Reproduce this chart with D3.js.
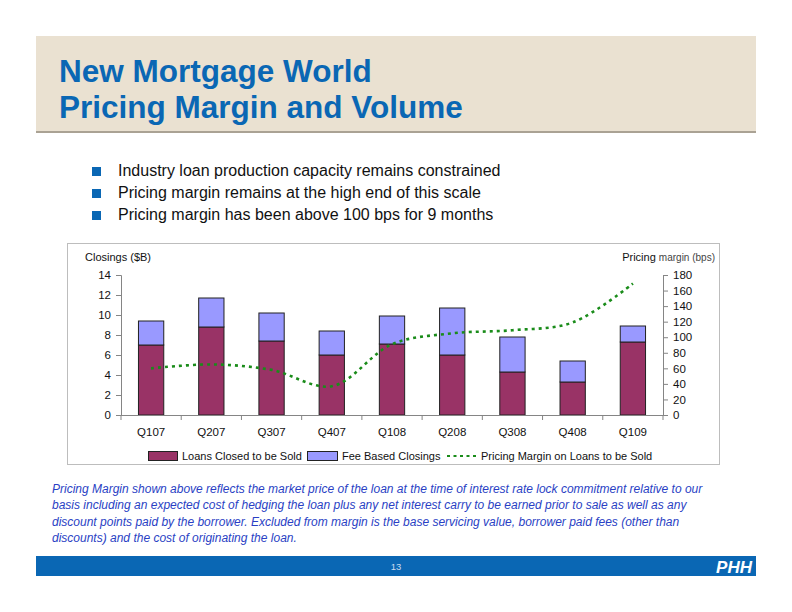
<!DOCTYPE html>
<html><head><meta charset="utf-8">
<script src="https://cdn.jsdelivr.net/npm/d3@7"></script>
<style>
html,body{margin:0;padding:0;background:#fff;}
svg{display:block;font-family:"Liberation Sans",Arial,sans-serif;}
</style></head>
<body><svg id="c" width="792" height="612"></svg>
<script>
const categories = ["Q107","Q207","Q307","Q407","Q108","Q208","Q308","Q408","Q109"];
const loansClosedToBeSold = [7.0, 8.8, 7.4, 6.0, 7.1, 6.0, 4.3, 3.3, 7.3];
const feeBasedClosings    = [2.4, 2.9, 2.8, 2.4, 2.8, 4.7, 3.5, 2.1, 1.6];
const pricingMargin       = [60, 65, 58, 37, 91, 105, 109, 119, 169];
const leftTicks  = [0,2,4,6,8,10,12,14];
const rightTicks = [0,20,40,60,80,100,120,140,160,180];
const seriesNames = ["Loans Closed to be Sold","Fee Based Closings","Pricing Margin on Loans to be Sold"];
const titleLines = ["New Mortgage World","Pricing Margin and Volume"];
const bullets = ["Industry loan production capacity remains constrained",
  "Pricing margin remains at the high end of this scale",
  "Pricing margin has been above 100 bps for 9 months"];
const footnote = ["Pricing Margin shown above reflects the market price of the loan at the time of interest rate lock commitment relative to our",
  "basis including an expected cost of hedging the loan plus any net interest carry to be earned prior to sale as well as any",
  "discount points paid by the borrower. Excluded from margin is the base servicing value, borrower paid fees (other than",
  "discounts) and the cost of originating the loan."];

const svg = d3.select("#c");
const RED = "#993366", BLUE = "#9999ff", GREEN = "#1a8c1a", TITLE = "#0a67b4";

// Header
svg.append("rect").attr("x",36).attr("y",36).attr("width",720).attr("height",96).attr("fill","#eae1d1");
svg.append("rect").attr("x",36).attr("y",131).attr("width",720).attr("height",2).attr("fill","#aaa294");
svg.selectAll("text.title").data(titleLines).join("text").attr("class","title")
  .attr("x",59).attr("y",(d,i)=>82+i*35.5).attr("fill",TITLE)
  .attr("font-size",31.5).attr("font-weight","bold").text(d=>d);

// Bullets
const bg = svg.append("g");
bullets.forEach((b,i)=>{
  const y = 176 + i*22;
  bg.append("rect").attr("x",92).attr("y",y-9).attr("width",9).attr("height",9).attr("fill","#0a67b4");
  bg.append("text").attr("x",118).attr("y",y).attr("font-size",16).attr("fill","#111").text(b);
});

// Chart box
svg.append("rect").attr("x",67.5).attr("y",243.5).attr("width",652).attr("height",221)
  .attr("fill","#fff").attr("stroke","#bdbdbd").attr("stroke-width",1);

const x = d3.scaleBand().domain(categories).range([121,663]).paddingInner(0.58).paddingOuter(0.29);
const yL = d3.scaleLinear().domain([0,14]).range([415,275]);
const yR = d3.scaleLinear().domain([0,180]).range([415,275]);

// Bars
const bars = svg.append("g");
categories.forEach((c,i)=>{
  const a = loansClosedToBeSold[i], b = feeBasedClosings[i];
  bars.append("rect").attr("x",x(c)).attr("width",x.bandwidth())
    .attr("y",yL(a)).attr("height",yL(0)-yL(a)).attr("fill",RED).attr("stroke","#222").attr("stroke-width",1);
  bars.append("rect").attr("x",x(c)).attr("width",x.bandwidth())
    .attr("y",yL(a+b)).attr("height",yL(a)-yL(a+b)).attr("fill",BLUE).attr("stroke","#222").attr("stroke-width",1);
});

// Axes
const axCol = "#858585";
const gl = svg.append("g").attr("transform","translate(121,0)")
  .call(d3.axisLeft(yL).tickValues(leftTicks).tickSize(5).tickPadding(5).tickFormat(d3.format("d")));
const gr = svg.append("g").attr("transform","translate(663,0)")
  .call(d3.axisRight(yR).tickValues(rightTicks).tickSize(5).tickPadding(5).tickFormat(d3.format("d")));
const gx = svg.append("g").attr("transform","translate(0,415)")
  .call(d3.axisBottom(x).tickSize(0).tickPadding(13));
// category boundary ticks
const step = x.step();
const bounds = d3.range(categories.length+1).map(i=>121+i*step);
svg.append("g").selectAll("line").data(bounds).join("line")
  .attr("x1",d=>d).attr("x2",d=>d).attr("y1",415).attr("y2",420).attr("stroke",axCol);
[gl,gr,gx].forEach(g=>{
  g.selectAll("path.domain").attr("stroke",axCol);
  g.selectAll(".tick line").attr("stroke",axCol);
  g.selectAll("text").attr("font-size",11.5).attr("fill","#111").attr("font-family","Liberation Sans, Arial, sans-serif");
});
gx.select("path.domain").attr("d","M121,0.5H663");

// Line
const line = d3.line().x((d,i)=>x(categories[i])+x.bandwidth()/2).y(d=>yR(d)).curve(d3.curveCatmullRom.alpha(0.5));
svg.append("path").datum(pricingMargin).attr("d",line).attr("fill","none")
  .attr("stroke",GREEN).attr("stroke-width",2.6).attr("stroke-dasharray","3,4");

// Axis titles
svg.append("text").attr("x",85).attr("y",261).attr("font-size",11).attr("fill","#111").text("Closings ($B)");
const rt = svg.append("text").attr("x",715).attr("y",261).attr("text-anchor","end").attr("fill","#111");
rt.append("tspan").attr("font-size",11).text("Pricing ");
rt.append("tspan").attr("font-size",10).attr("fill","#444").text("margin (bps)");

// Legend
const lg = svg.append("g").attr("font-size",11).attr("fill","#111");
lg.append("rect").attr("x",148.5).attr("y",451.5).attr("width",29).attr("height",9).attr("fill",RED).attr("stroke","#222");
lg.append("text").attr("x",182).attr("y",460).text(seriesNames[0]);
lg.append("rect").attr("x",307.5).attr("y",451.5).attr("width",30).attr("height",9).attr("fill",BLUE).attr("stroke","#222");
lg.append("text").attr("x",342).attr("y",460).text(seriesNames[1]);
lg.append("line").attr("x1",447).attr("x2",477).attr("y1",456).attr("y2",456)
  .attr("stroke",GREEN).attr("stroke-width",2.2).attr("stroke-dasharray","3,3.5");
lg.append("text").attr("x",481).attr("y",460).text(seriesNames[2]);

// Footnote
svg.selectAll("text.fn").data(footnote).join("text").attr("class","fn")
  .attr("x",52).attr("y",(d,i)=>493+i*16.3).attr("font-size",12).attr("font-style","italic")
  .attr("fill","#2a3fc4").text(d=>d);

// Footer
svg.append("rect").attr("x",36).attr("y",556).attr("width",720).attr("height",20).attr("fill","#0a67b4");
svg.append("text").attr("x",396).attr("y",570).attr("text-anchor","middle").attr("font-size",9.5).attr("fill","#c9dcef").text("13");
svg.append("text").attr("x",752).attr("y",572.5).attr("text-anchor","end").attr("font-size",17)
  .attr("font-weight","bold").attr("font-style","italic").attr("fill","#fff").text("PHH");
</script></body></html>
